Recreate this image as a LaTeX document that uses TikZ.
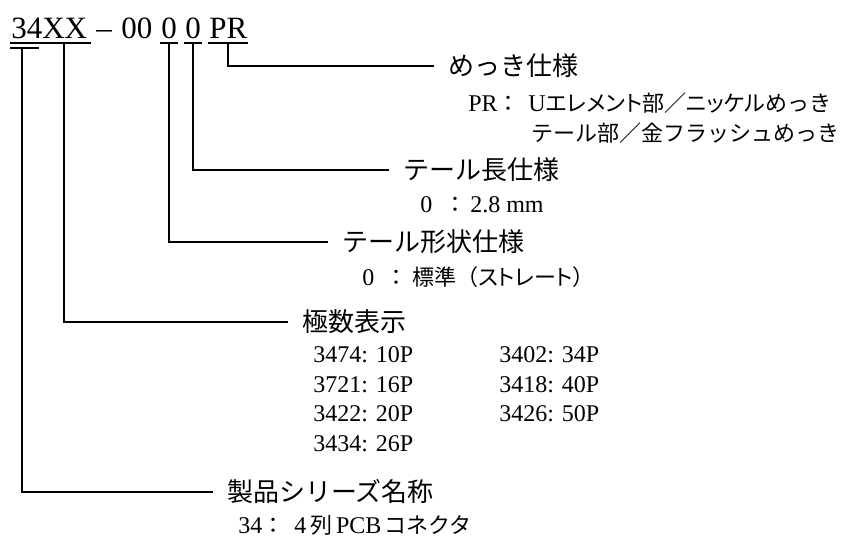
\documentclass[tikz,border=0pt]{standalone}
\usepackage{fontspec}
\setmainfont{Liberation Serif}
\newfontfamily\jpf{Noto Sans CJK JP}
\newfontfamily\jpp[RawFeature=+palt]{Noto Sans CJK JP}
\tikzset{
  conn/.style={line width=1.3pt, line cap=rect},
  hdr/.style={anchor=base west, inner sep=0pt, font=\fontsize{23.25pt}{24pt}\selectfont},
  headtxt/.style={anchor=west, inner xsep=11.25pt, inner ysep=0pt, font=\jpf\fontsize{19.5pt}{20pt}\selectfont},
  subl/.style={anchor=base west, inner sep=0pt, font=\fontsize{18pt}{19pt}\selectfont},
  subj/.style={anchor=base west, inner sep=0pt, font=\jpf\fontsize{16.5pt}{17pt}\selectfont},
}
\begin{document}
\begin{tikzpicture}[x=0.75pt,y=-0.75pt]
\useasboundingbox (0,0) rectangle (842,547);
% header
\node[hdr] (h34) at (11,38) {34XX};
\node[hdr] (hdash) at (96,38) {–};
\node[hdr] (h00) at (121,38) {00};
\node[hdr] (hz1) at (161,38) {0};
\node[hdr] (hz2) at (185,38) {0};
\node[hdr] (hpr) at (209,38) {PR};
% underlines
\draw[conn] ([yshift=-3.75pt]h34.base west) -- ([yshift=-3.75pt,xshift=2pt]h34.base east);
\draw[conn] ([yshift=-3.75pt]hz1.base west) -- ([yshift=-3.75pt]hz1.base east);
\draw[conn] ([yshift=-3.75pt]hz2.base west) -- ([yshift=-3.75pt]hz2.base east);
\draw[conn] ([yshift=-3.75pt]hpr.base west) -- ([yshift=-3.75pt]hpr.base east);
% headings
\node[headtxt] (mekki) at (433,66) {めっき仕様};
\node[headtxt] (tlen) at (388,170) {テール長仕様};
\node[headtxt] (tshape) at (327,242) {テール形状仕様};
\node[headtxt] (poles) at (287,322) {極数表示};
\node[headtxt] (series) at (212,492) {製品シリーズ名称};
% connectors
\coordinate (t34l) at (11,48);
\coordinate (t34r) at (38,48);
\coordinate (t34) at (22,48);
\coordinate (cxx) at (64,43);
\draw[conn] (t34l) -- (t34r);
\draw[conn] (t34) |- (series.west);
\draw[conn] (cxx) |- (poles.west);
\draw[conn] ([yshift=-3.75pt]hz1.base) |- (tshape.west);
\draw[conn] ([yshift=-3.75pt]hz2.base) |- (tlen.west);
\draw[conn] ([yshift=-3.75pt]hpr.base) |- (mekki.west);
% details: plating
\node[subl] (prk) at (468,111.5) {PR};
\node[subj] (prc) at (497,111.5) {：};
\node[subl] (pru) at (528,111.5) {U};
\node[subj] (prn) at (pru.base east) {{\jpp エレメント}部／{\jpp ニッケル}めっき};
\node[subj] (prt) at (531,141.5) {テール部／金フラッシュめっき};
% tail length
\node[subl] (l0) at (420,212.5) {0};
\node[subj] (lc) at (444,212.5) {：};
\node[subl] (lv) at (470,212.5) {2.8 mm};
% tail shape
\node[subl] (s0) at (362,285.5) {0};
\node[subj] (sc) at (385,285.5) {：};
\node[subj] (sv) at (412,285.5) {標準（{\jpp ストレート}）};
% poles
\node[subl] (p1) at (313,362.5) {3474: 10P};
\node[subl] (p2) at (313,392.5) {3721: 16P};
\node[subl] (p3) at (313,421.5) {3422: 20P};
\node[subl] (p4) at (313,451.5) {3434: 26P};
\node[subl] (p5) at (499,362.5) {3402: 34P};
\node[subl] (p6) at (499,392.5) {3418: 40P};
\node[subl] (p7) at (499,421.5) {3426: 50P};
% series
\node[subl] (r34) at (238,533.5) {34};
\node[subj] (rc) at (262,533.5) {：};
\node[subl] (r4) at (294,533.5) {4\,};
\node[subj] (rl) at (r4.base east) {列};
\node[subl] (rp) at ([xshift=2pt]rl.base east) {PCB};
\node[subj] (rk) at ([xshift=2pt]rp.base east) {コネクタ};
\end{tikzpicture}
\end{document}
